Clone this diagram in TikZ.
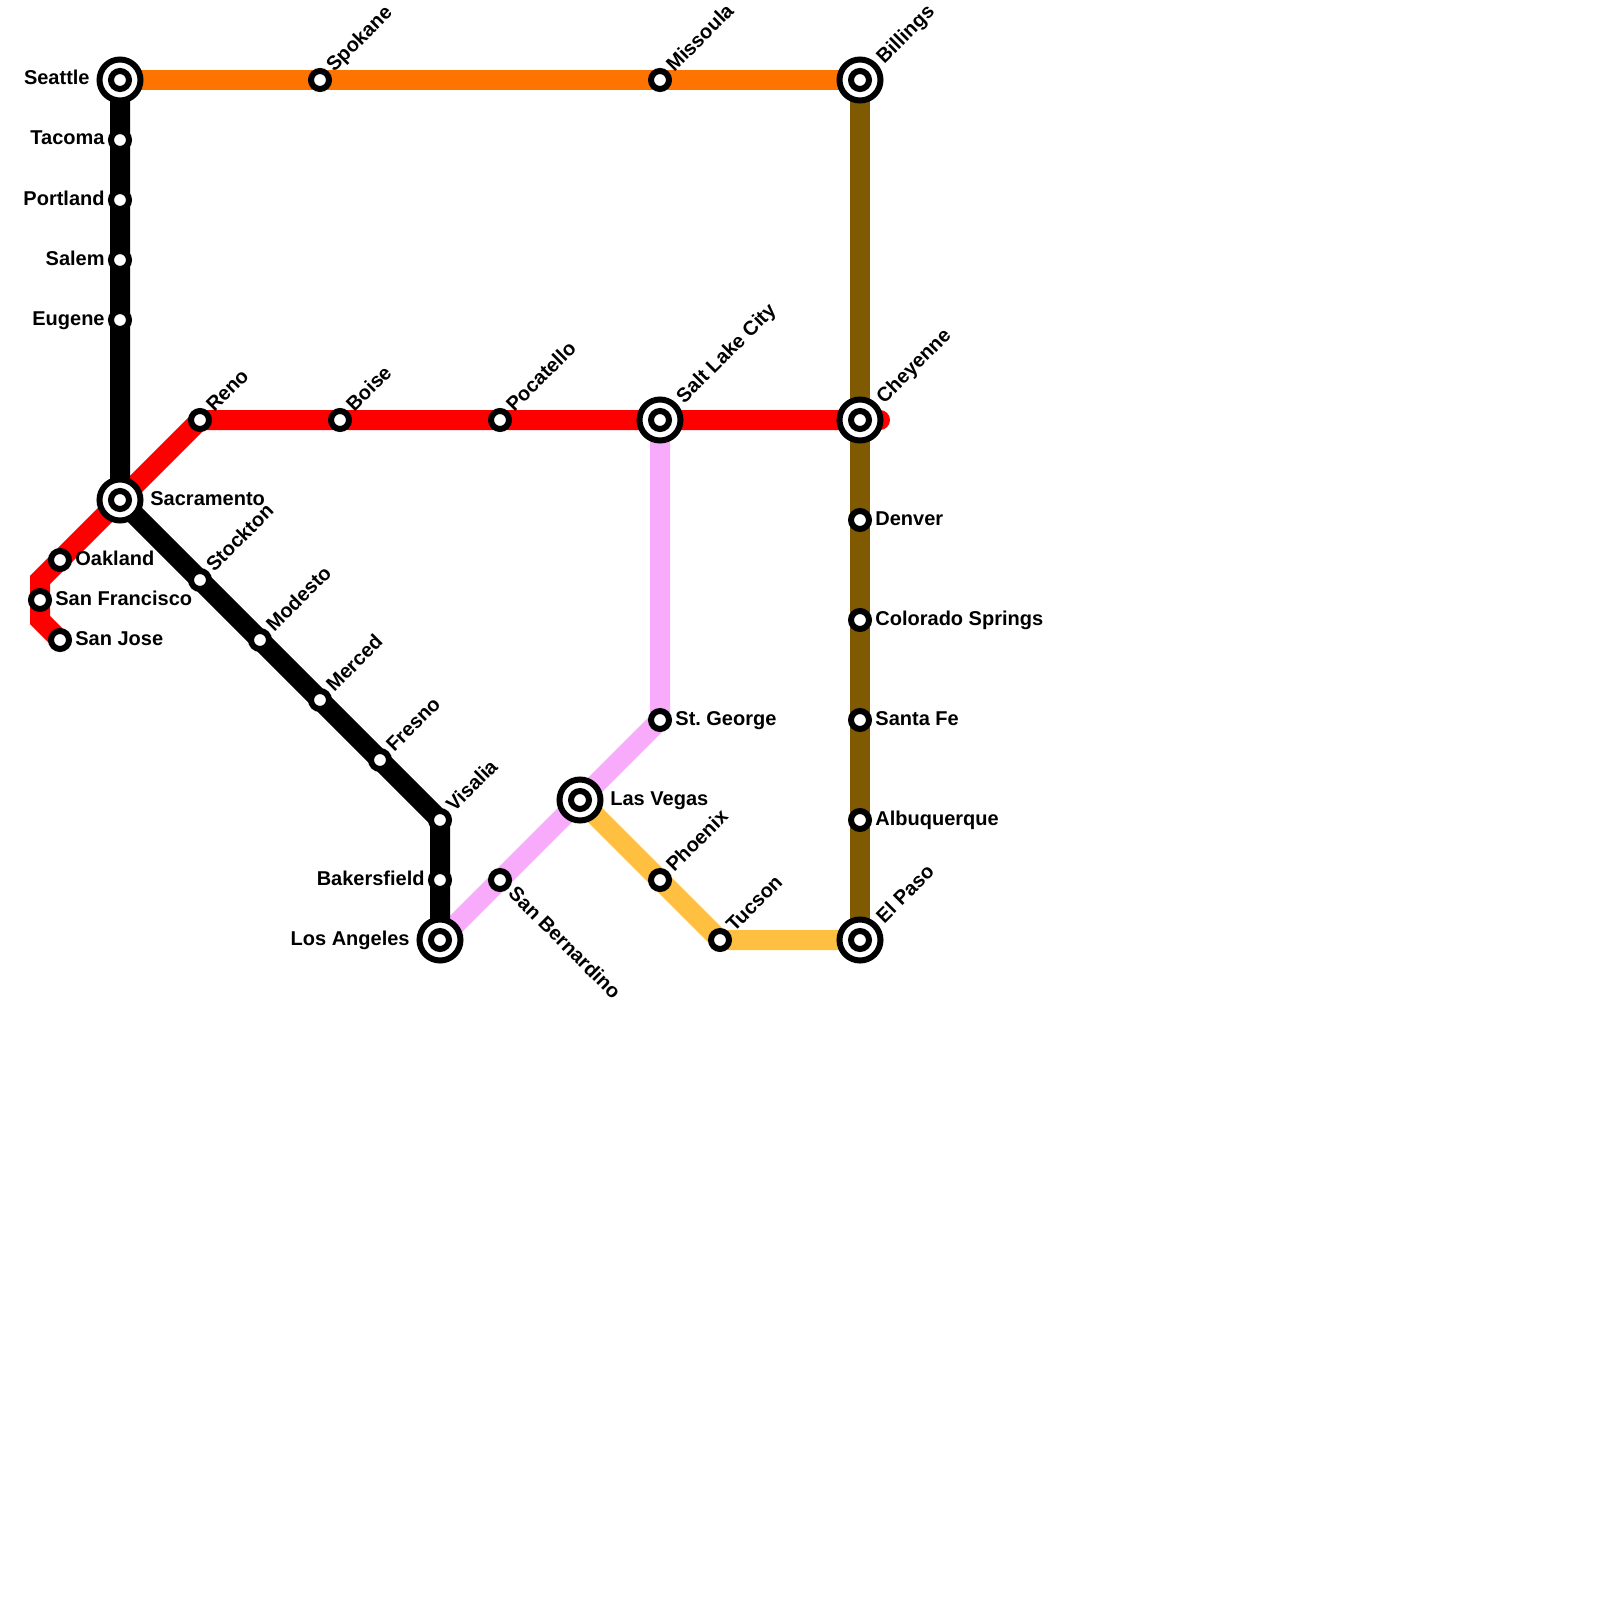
\documentclass[tikz,border=0pt]{standalone}
\usepackage{fontspec}
\setmainfont{Liberation Sans}
\usepackage{xcolor}
\usepackage{tikz}
\usetikzlibrary{positioning,calc,backgrounds}

\definecolor{lineorange}{HTML}{FF7300}
\definecolor{linebrown}{HTML}{7F5A00}
\definecolor{linepink}{HTML}{F8ABFB}
\definecolor{lineyellow}{HTML}{FFBF40}

\begin{document}
\begin{tikzpicture}[x=0.5pt,y=-0.5pt,
	stn/.style={draw, circle, fill=white, line width=3pt, minimum size=9pt, inner sep=0pt},
	hub/.style={draw, circle, fill=white, line width=3pt, minimum size=20.5pt, inner sep=0pt},
	track/.style={line width=10pt, line join=miter},
	lbl/.style={inner sep=0pt, font=\bfseries\fontsize{10}{12}\selectfont},
	lblr/.style={lbl, anchor=base west},
	lbll/.style={lbl, anchor=base east},
	lblu/.style={lbl, anchor=base west, rotate=45},
	lbld/.style={lbl, anchor=base west, rotate=-45}]
	\useasboundingbox (0,0) rectangle (1600,1600);

	% hubs
	\node[hub] (seattle) at (120,80) {};
	\node[hub] (billings) at (860,80) {};
	\node[hub] (slc) at (660,420) {};
	\node[hub] (cheyenne) at (860,420) {};
	\node[hub] (sacramento) at (120,500) {};
	\node[hub] (lasvegas) at (580,800) {};
	\node[hub] (losangeles) at (440,940) {};
	\node[hub] (elpaso) at (860,940) {};
	\node[stn] (seattlein) at (seattle) {};
	\node[stn] (billingsin) at (billings) {};
	\node[stn] (slcin) at (slc) {};
	\node[stn] (cheyennein) at (cheyenne) {};
	\node[stn] (sacramentoin) at (sacramento) {};
	\node[stn] (lasvegasin) at (lasvegas) {};
	\node[stn] (losangelesin) at (losangeles) {};
	\node[stn] (elpasoin) at (elpaso) {};

	% stations
	\node[stn] (spokane) at (320,80) {};
	\node[stn] (missoula) at (660,80) {};
	\node[stn] (tacoma) at (120,140) {};
	\node[stn] (portland) at (120,200) {};
	\node[stn] (salem) at (120,260) {};
	\node[stn] (eugene) at (120,320) {};
	\node[stn] (reno) at (200,420) {};
	\node[stn] (boise) at (340,420) {};
	\node[stn] (pocatello) at (500,420) {};
	\node[stn] (oakland) at (60,560) {};
	\node[stn] (sanfrancisco) at (40,600) {};
	\node[stn] (sanjose) at (60,640) {};
	\node[stn] (stockton) at (200,580) {};
	\node[stn] (modesto) at (260,640) {};
	\node[stn] (merced) at (320,700) {};
	\node[stn] (fresno) at (380,760) {};
	\node[stn] (visalia) at (440,820) {};
	\node[stn] (bakersfield) at (440,880) {};
	\node[stn] (sanbernardino) at (500,880) {};
	\node[stn] (stgeorge) at (660,720) {};
	\node[stn] (phoenix) at (660,880) {};
	\node[stn] (tucson) at (720,940) {};
	\node[stn] (denver) at (860,520) {};
	\node[stn] (cosprings) at (860,620) {};
	\node[stn] (santafe) at (860,720) {};
	\node[stn] (albuquerque) at (860,820) {};

	\coordinate (bendA) at (40,580);
	\coordinate (bendB) at (40,620);
	\coordinate (redend) at (880,420);

	% lines
	\begin{scope}[on background layer]
		\draw[track, red, line cap=round] (sanjose.center)--(bendB)--(sanfrancisco.center)--(bendA)--(oakland.center)--(sacramento.center)--(reno.center)--(boise.center)--(pocatello.center)--(slc.center)--(cheyenne.center)--(redend);
		\draw[track, linepink] (slc.center)--(stgeorge.center)--(lasvegas.center)--(sanbernardino.center)--(losangeles.center);
		\draw[track, lineyellow] (lasvegas.center)--(phoenix.center)--(tucson.center)--(elpaso.center);
		\draw[track, black] (seattle.center)--(tacoma.center)--(portland.center)--(salem.center)--(eugene.center)--(sacramento.center)--(stockton.center)--(modesto.center)--(merced.center)--(fresno.center)--(visalia.center)--(bakersfield.center)--(losangeles.center);
		\draw[track, lineorange] (seattle.center)--(spokane.center)--(missoula.center)--(billings.center);
		\draw[track, linebrown] (billings.center)--(cheyenne.center)--(denver.center)--(cosprings.center)--(santafe.center)--(albuquerque.center)--(elpaso.center);
	\end{scope}

	% labels
	\node[lbll] (seattlelbl) at ($(seattle)+(-30,5)$) {Seattle};
	\node[lbll] (tacomalbl) at ($(tacoma)+(-15,5)$) {Tacoma};
	\node[lbll] (portlandlbl) at ($(portland)+(-15,5)$) {Portland};
	\node[lbll] (salemlbl) at ($(salem)+(-15,5)$) {Salem};
	\node[lbll] (eugenelbl) at ($(eugene)+(-15,5)$) {Eugene};
	\node[lbll] (bakersfieldlbl) at ($(bakersfield)+(-15,5)$) {Bakersfield};
	\node[lbll] (losangeleslbl) at ($(losangeles)+(-30,5)$) {Los Angeles};
	\node[lblr] (sacramentolbl) at ($(sacramento)+(30,5)$) {Sacramento};
	\node[lblr] (oaklandlbl) at ($(oakland)+(15,5)$) {Oakland};
	\node[lblr] (sanfranciscolbl) at ($(sanfrancisco)+(15,5)$) {San Francisco};
	\node[lblr] (sanjoselbl) at ($(sanjose)+(15,5)$) {San Jose};
	\node[lblr] (lasvegaslbl) at ($(lasvegas)+(30,5)$) {Las Vegas};
	\node[lblr] (stgeorgelbl) at ($(stgeorge)+(15,5)$) {St.\hspace{-1pt} George};
	\node[lblr] (denverlbl) at ($(denver)+(15,5)$) {Denver};
	\node[lblr] (cospringslbl) at ($(cosprings)+(15,5)$) {Colorado Springs};
	\node[lblr] (santafelbl) at ($(santafe)+(15,5)$) {Santa Fe};
	\node[lblr] (albuquerquelbl) at ($(albuquerque)+(15,5)$) {Albuquerque};
	\node[lblu] (spokanelbl) at ($(spokane)+(14,-7)$) {Spokane};
	\node[lblu] (missoulalbl) at ($(missoula)+(14,-7)$) {Missoula};
	\node[lblu] (billingslbl) at ($(billings)+(24,-15.5)$) {Billings};
	\node[lblu] (renolbl) at ($(reno)+(14,-7)$) {Reno};
	\node[lblu] (boiselbl) at ($(boise)+(14,-7)$) {Boise};
	\node[lblu] (pocatellolbl) at ($(pocatello)+(14,-7)$) {Pocatello};
	\node[lblu] (slclbl) at ($(slc)+(24,-15.5)$) {Salt Lake City};
	\node[lblu] (cheyennelbl) at ($(cheyenne)+(24,-15.5)$) {Cheyenne};
	\node[lblu] (stocktonlbl) at ($(stockton)+(14,-7)$) {Stockton};
	\node[lblu] (modestolbl) at ($(modesto)+(14,-7)$) {Modesto};
	\node[lblu] (mercedlbl) at ($(merced)+(14,-7)$) {Merced};
	\node[lblu] (fresnolbl) at ($(fresno)+(14,-7)$) {Fresno};
	\node[lblu] (visalialbl) at ($(visalia)+(14,-7)$) {Visalia};
	\node[lblu] (phoenixlbl) at ($(phoenix)+(14,-7)$) {Phoenix};
	\node[lblu] (tucsonlbl) at ($(tucson)+(14,-7)$) {Tucson};
	\node[lblu] (elpasolbl) at ($(elpaso)+(24,-15.5)$) {El Paso};
	\node[lbld] (sanbernardinolbl) at ($(sanbernardino)+(7,14.5)$) {San Bernardino};
\end{tikzpicture}
\end{document}
